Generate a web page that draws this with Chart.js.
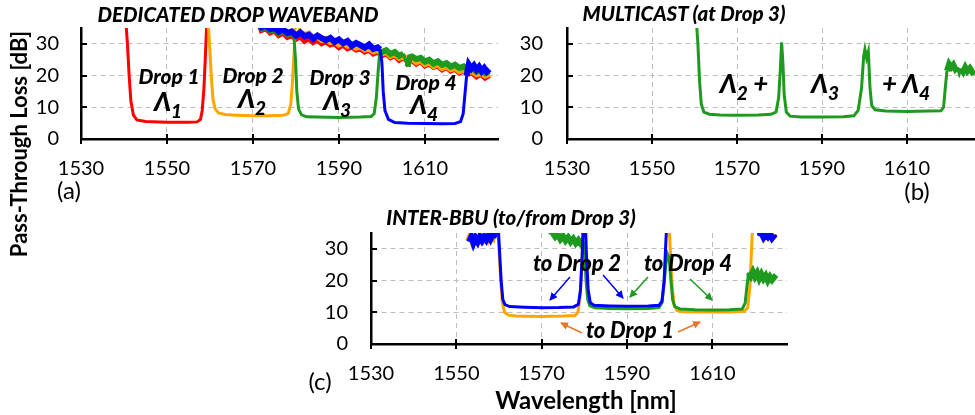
<!DOCTYPE html>
<html>
<head>
<meta charset="utf-8">
<script src="https://cdn.jsdelivr.net/npm/chart.js@4.4.1/dist/chart.umd.min.js"></script>
<style>
  body { margin: 0; background: #fff; }
  #wrap { position: relative; width: 975px; height: 415px; overflow: hidden; font-family: Lato, "Open Sans", sans-serif; }
  canvas { position: absolute; left: 0; top: 0; }
  .t { position: absolute; transform: translate(-50%, -50%); white-space: nowrap; color: #000; line-height: 1; }
  .bi { font-weight: 900; font-style: italic; }
  .ttl { font-size: 20.5px; }
  .drop { font-size: 21px; }
  .ann { font-size: 22px; }
  .lam { font-size: 26px; }
  .lam sub { font-size: 19px; vertical-align: -7px; }
  .pan { font-size: 24px; }
  svg { position: absolute; left: 0; top: 0; }
</style>
</head>
<body>
<div id="wrap">
  <canvas id="ca" width="975" height="415"></canvas>
  <canvas id="cb" width="975" height="415"></canvas>
  <canvas id="cc" width="975" height="415"></canvas>

  <svg width="975" height="415">
    <defs>
      <marker id="hb" markerWidth="8" markerHeight="8" refX="7" refY="4" orient="auto" markerUnits="userSpaceOnUse"><path d="M0,0 L8,4 L0,8 z" fill="#0000ff"/></marker>
      <marker id="hg" markerWidth="8" markerHeight="8" refX="7" refY="4" orient="auto" markerUnits="userSpaceOnUse"><path d="M0,0 L8,4 L0,8 z" fill="#1e9a1e"/></marker>
      <marker id="ho" markerWidth="8" markerHeight="8" refX="7" refY="4" orient="auto" markerUnits="userSpaceOnUse"><path d="M0,0 L8,4 L0,8 z" fill="#e8762c"/></marker>
    </defs>
    <line x1="570" y1="277" x2="550" y2="300" stroke="#0000ff" stroke-width="1.5" marker-end="url(#hb)"/>
    <line x1="603" y1="275" x2="623" y2="298" stroke="#0000ff" stroke-width="1.5" marker-end="url(#hb)"/>
    <line x1="648" y1="277" x2="630" y2="297" stroke="#1e9a1e" stroke-width="1.5" marker-end="url(#hg)"/>
    <line x1="690" y1="279" x2="712" y2="300" stroke="#1e9a1e" stroke-width="1.5" marker-end="url(#hg)"/>
    <line x1="582" y1="333" x2="561" y2="323" stroke="#e8762c" stroke-width="1.5" marker-end="url(#ho)"/>
    <line x1="678" y1="332" x2="700" y2="322" stroke="#e8762c" stroke-width="1.5" marker-end="url(#ho)"/>
  </svg>

  <div class="t bi ttl" style="left:238px;top:14px">DEDICATED DROP WAVEBAND</div>
  <div class="t bi ttl" style="left:684px;top:13px">MULTICAST (at Drop 3)</div>
  <div class="t bi ttl" style="left:511px;top:217px">INTER-BBU (to/from Drop 3)</div>

  <div class="t bi drop" style="left:169px;top:75px">Drop 1</div>
  <div class="t bi lam" style="left:168px;top:104px">Λ<sub>1</sub></div>
  <div class="t bi drop" style="left:253px;top:74px">Drop 2</div>
  <div class="t bi lam" style="left:252px;top:101px">Λ<sub>2</sub></div>
  <div class="t bi drop" style="left:340px;top:76px">Drop 3</div>
  <div class="t bi lam" style="left:337px;top:103px">Λ<sub>3</sub></div>
  <div class="t bi drop" style="left:426px;top:81px">Drop 4</div>
  <div class="t bi lam" style="left:424px;top:107px">Λ<sub>4</sub></div>

  <div class="t bi lam" style="left:744px;top:86px">Λ<sub>2</sub> +</div>
  <div class="t bi lam" style="left:825px;top:86px">Λ<sub>3</sub></div>
  <div class="t bi lam" style="left:906px;top:86px">+ Λ<sub>4</sub></div>

  <div class="t bi ann" style="left:577px;top:263px">to Drop 2</div>
  <div class="t bi ann" style="left:688px;top:263px">to Drop 4</div>
  <div class="t bi ann" style="left:630px;top:330px">to Drop 1</div>

  <div class="t pan" style="left:69px;top:190px">(a)</div>
  <div class="t pan" style="left:917px;top:191px">(b)</div>
  <div class="t pan" style="left:320px;top:381px">(c)</div>

  <div class="t" style="left:19px;top:144px;transform:translate(-50%,-50%) rotate(-90deg);font-weight:bold;font-size:22px">Pass-Through Loss [dB]</div>
  <div class="t" style="left:586px;top:400px;font-weight:bold;font-size:24px">Wavelength [nm]</div>
</div>

<script>
// axis ticks shared by all three panels
var xTicks = [1530, 1550, 1570, 1590, 1610];
var yTicks = [0, 10, 20, 30];

// (a) dedicated drop waveband: [wavelength nm, loss dB]
var aRed = [[1538,40],[1540.3,40],[1540.8,30],[1541.2,20],[1541.6,12],[1542.2,7.5],[1543,6],[1545,5.5],[1550,5.3],[1555,5.3],[1557,5.4],
  [1557.8,6.2],[1558.2,9],[1558.6,16],[1558.9,25],[1559.2,35],[1559.5,40],[1566,40],[1571,38],
  [1572,34.4],[1573,35.0],[1574,33.6],[1575,34.2],[1576,32.8],[1577,33.6],[1578,32.2],[1579,32.8],[1580,31.6],[1581,32.4],
  [1582,31.0],[1583,31.8],[1584,30.6],[1585,31.4],[1586,30.2],[1587,30.8],[1588,29.8],[1589,30.2],[1590,29.0],[1591,29.8],
  [1592,28.6],[1593,29.2],[1594,28.2],[1595,28.6],[1596,27.6],[1597,28.2],[1598,27.0],[1599,27.6],[1600,26.4],[1601,27.0],
  [1602,25.8],[1603,26.4],[1604,25.0],[1605,25.8],[1606,24.6],[1607,25.0],[1608,23.8],[1609,24.6],[1610,23.2],[1611,23.8],
  [1612,22.8],[1613,23.2],[1614,22.0],[1615,22.8],[1616,21.6],[1617,22.2],[1618,21.0],[1619,21.6],[1620,20.6],[1621,21.0],
  [1622,19.8],[1623,20.6],[1624,19.4],[1625,20.2]];
var aOrange = [[1559.4,40],[1559.9,30],[1560.3,20],[1560.7,12.5],[1561.2,9.5],[1562,8.2],[1563.5,7.7],[1566,7.5],[1570,7.3],[1574,7.3],
  [1577,7.5],[1578.2,8],[1578.8,11],[1579.2,18],[1579.6,28],[1579.9,38],[1580.3,40],[1581,33.4],[1582,32.8],[1583,33.2],
  [1584,32.0],[1585,32.2],[1586,31.2],[1587,31.6],[1588,30.6],[1589,31.0],[1590,29.8],[1591,30.4],[1592,29.4],[1593,29.8],
  [1594,28.8],[1595,29.2],[1596,28.2],[1597,28.6],[1598,27.6],[1599,28.0],[1600,27.0],[1601,27.4],[1602,26.2],[1603,26.8],
  [1604,25.6],[1605,26.0],[1606,25.0],[1607,25.4],[1608,24.2],[1609,24.8],[1610,23.6],[1611,24.2],[1612,23.0],[1613,23.6],
  [1614,22.4],[1615,23.0],[1616,22.0],[1617,22.4],[1618,21.4],[1619,21.8],[1620,21.0],[1621,21.4],[1622,20.4],[1623,20.8],
  [1624,20.0],[1625,20.6]];
var aGreen = [[1571,37],[1572,34.8],[1573,35.4],[1574,34.2],[1575,34.6],[1576,33.4],[1577,34.2],[1578,33.0],[1579,33.5],[1579.5,32.8],
  [1579.9,25],[1580.2,15],[1580.6,9.5],[1581.3,7.6],[1582.5,7.0],[1585,6.9],[1590,6.8],[1595,6.9],[1597.5,7.1],[1598.2,8],
  [1598.7,13],[1599.1,21],[1599.5,27.6],[1600,27.4],[1601,28.0],[1602,26.8],[1603,27.4],[1604,26.2],[1605,26.9],[1606,22.8],
  [1606.5,25.8],[1607,26.0],[1608,25.2],[1609,25.6],[1610,24.4],[1611,25.0],[1612,23.8],[1613,24.5],[1614,23.4],[1615,23.9],
  [1616,22.8],[1617,23.4],[1618,22.4],[1619,22.9],[1620,21.8],[1621,22.4],[1622,21.2],[1623,21.9],[1624,20.8],[1625,21.4]];
var aBlue = [[1565,40],[1571,37],[1572,35.2],[1573,35.8],[1574,34.6],[1575,35.0],[1576,33.8],[1577,34.6],[1578,33.4],[1579,33.9],
  [1580,32.6],[1581,33.6],[1582,32.4],[1583,32.9],[1584,31.6],[1585,32.6],[1586,31.8],[1587,31.2],[1588,31.9],[1589,30.6],
  [1590,31.4],[1591,30.2],[1592,30.9],[1593,29.4],[1594,30.3],[1595,29.6],[1596,28.8],[1597,29.8],[1598,28.4],[1599,28.9],
  [1599.6,28.2],[1600,24],[1600.3,15],[1600.7,9],[1601.5,6.2],[1603,5.2],[1606,5.0],[1610,4.9],[1614,4.8],[1617,4.9],
  [1618.3,5.5],[1618.9,8],[1619.3,14],[1619.7,20],[1620.2,23.5],[1620.8,22.2],[1621.4,23.2],[1622,21.8],[1622.6,22.8],
  [1623.2,21.4],[1623.8,22.4],[1624.4,21.2],[1625,22.0]];

// (b) multicast at drop 3
var bGreen = [[1560.3,40],[1560.8,30],[1561.2,18],[1561.6,11],[1562.2,8.5],[1563.5,7.8],[1566,7.6],[1570,7.5],[1575,7.6],[1578,7.8],
  [1579.2,8.5],[1579.8,13],[1580.2,22],[1580.5,30.5],[1580.8,24],[1581.1,14],[1581.6,8.5],[1582.5,7.2],[1585,6.9],[1590,6.9],
  [1595,7.0],[1597.5,7.3],[1598.5,9],[1599.3,16],[1599.8,26],[1600.1,28.3],[1600.5,25.5],[1600.9,27.5],[1601.3,16],[1601.7,10.5],
  [1602.5,9.2],[1605,8.8],[1610,8.7],[1615,8.8],[1618,8.9],[1618.6,10],[1619,16],[1619.4,21.5],[1619.9,23.6],[1620.4,22.6],
  [1620.9,23.4],[1621.4,22.0],[1621.9,22.6],[1622.3,20.6],[1622.7,22.2],[1623.2,21.2],[1623.7,22.6],[1624.2,21.4],[1624.8,22.3],
  [1625.4,21.0],[1626,21.4]];

// (c) inter-BBU to/from drop 3
var cOrange = [[1552.8,32.5],[1553.3,34.2],[1553.8,32.2],[1554.4,33.8],[1555,32.4],[1555.6,34.0],[1556.2,32.8],[1556.8,34.4],
  [1557.4,33.0],[1558,34.6],[1558.6,33.6],[1559.1,36],[1559.5,40],[1560,30],[1560.4,20],[1560.8,13],[1561.3,10],[1562.2,9.1],
  [1564,8.8],[1570,8.7],[1575,8.8],[1577.8,9.0],[1578.5,10],[1579,15],[1579.4,25],[1579.8,40],[1599.8,40],[1600.2,28],
  [1600.6,18],[1601,12.5],[1601.7,10.6],[1603,10.2],[1608,10.1],[1614,10.1],[1617.5,10.3],[1618.3,11.5],[1618.8,18],
  [1619.2,30],[1619.5,40],[1620.8,37],[1621.2,34.2],[1621.7,35.0],[1622.2,33.8],[1622.7,34.8],[1623.2,34.0],[1623.7,34.8],
  [1624.2,33.6],[1624.8,34.4]];
var cGreen = [[1571.5,40],[1572,34.6],[1572.6,35.0],[1573.2,33.8],[1573.8,34.6],[1574.4,33.0],[1575,34.0],[1575.6,32.6],
  [1576.2,33.6],[1576.8,32.2],[1577.4,33.2],[1578,31.8],[1578.6,32.8],[1579.2,31.6],[1579.7,32.4],[1580.1,28],[1580.4,20],
  [1580.8,14],[1581.3,12],[1582.5,11.4],[1586,11.2],[1590,11.1],[1595,11.2],[1597.5,11.5],[1598.2,13],[1598.7,19],[1599.1,25],
  [1599.5,28.3],[1599.9,27],[1600.3,20],[1600.7,14],[1601.2,11.8],[1602.5,11.0],[1606,10.8],[1610,10.7],[1614,10.8],[1617,11.0],
  [1617.7,13],[1618.1,18],[1618.5,22.5],[1619,21.4],[1619.5,22.8],[1620,21.2],[1620.5,22.4],[1621,20.6],[1621.5,22.0],
  [1622,20.6],[1622.5,21.6],[1623,20.0],[1623.5,21.2],[1624,20.2],[1624.5,21.0],[1625,20.4]];
var cBlue = [[1553,32.2],[1553.5,33.8],[1554,31.8],[1554.5,33.4],[1555,32.2],[1555.5,33.8],[1556,32.6],[1556.5,33.8],[1557,32.8],
  [1557.5,34.2],[1558,33.0],[1558.5,34.4],[1559,33.4],[1559.4,36],[1559.7,40],[1560.1,30],[1560.5,20],[1560.9,14],[1561.4,12.4],
  [1562.5,11.8],[1566,11.6],[1570,11.4],[1574,11.5],[1577.5,11.7],[1578.6,12.5],[1579.1,17],[1579.5,28],[1579.8,40],[1580.2,40],
  [1580.5,28],[1580.9,17],[1581.4,13],[1582.3,12.2],[1586,12.0],[1590,11.9],[1595,12.0],[1597.5,12.2],[1598.2,13.5],[1598.7,20],
  [1599.1,32],[1599.4,40],[1620.5,40],[1621,34.0],[1621.5,35.0],[1622,33.6],[1622.5,34.6],[1623,33.8],[1623.5,34.8],[1624,33.4],
  [1624.6,34.4],[1625,33.8]];

var RED = '#ff0000', ORANGE = '#ffa500', GREEN = '#1e9a1e', BLUE = '#0000ff';
var tickFont = { family: 'Lato', size: 20 };

// noisy (high-loss) stretches are drawn as a thicker trace, like the measured band;
// steep filter edges stay thin
function segWidth(ctx) {
  var a = ctx.p0.parsed, b = ctx.p1.parsed;
  var noisy = a.y > 15 && b.y > 15 && b.x - a.x >= 0.45 && Math.abs(b.y - a.y) < 4;
  return noisy ? 6 : 3;
}

function ds(pts, color) {
  return {
    data: pts.map(function (p) { return { x: p[0], y: p[1] }; }),
    borderColor: color,
    borderWidth: 3,
    segment: { borderWidth: segWidth },
    pointRadius: 0,
    fill: false,
    tension: 0,
    clip: 0
  };
}

// short black tick marks: crossing the x axis, inside the y axis
var tickMarks = {
  id: 'tickMarks',
  afterDraw: function (chart) {
    var c = chart.ctx, a = chart.chartArea, sx = chart.scales.x, sy = chart.scales.y;
    c.save();
    c.strokeStyle = '#000';
    c.lineWidth = 2;
    c.beginPath();
    sx.ticks.forEach(function (t) {
      var px = Math.round(sx.getPixelForValue(t.value));
      c.moveTo(px, a.bottom - 5); c.lineTo(px, a.bottom + 5);
    });
    sy.ticks.forEach(function (t) {
      var py = Math.round(sy.getPixelForValue(t.value));
      c.moveTo(a.left, py); c.lineTo(a.left + 6, py);
    });
    c.stroke();
    c.restore();
  }
};

function panel(id, area, xMax, sets, yPad) {
  return new Chart(document.getElementById(id), {
    type: 'line',
    data: { datasets: sets },
    plugins: [tickMarks],
    options: {
      responsive: false,
      animation: false,
      events: [],
      layout: { padding: { left: area.l - 70, top: area.t, right: 975 - area.r, bottom: 415 - area.b - 50 } },
      plugins: { legend: { display: false }, tooltip: { enabled: false } },
      scales: {
        x: {
          type: 'linear', min: 1530, max: xMax,
          afterBuildTicks: function (s) { s.ticks = xTicks.map(function (v) { return { value: v }; }); },
          afterFit: function (s) { s.height = 50; s.paddingLeft = 0; s.paddingRight = 0; },
          ticks: { font: tickFont, color: '#000', padding: 18, maxRotation: 0, autoSkip: false,
                   callback: function (v) { return String(v); } },
          grid: { color: '#bdbdbd', lineWidth: 1, drawTicks: false },
          border: { color: '#000', width: 2.5, dash: [5, 4] }
        },
        y: {
          min: 0, max: 35,
          afterBuildTicks: function (s) { s.ticks = yTicks.map(function (v) { return { value: v }; }); },
          afterFit: function (s) { s.width = 70; s.paddingTop = 0; s.paddingBottom = 0; },
          ticks: { font: tickFont, color: '#000', padding: yPad,
                   callback: function (v) { return String(v); } },
          grid: { color: '#bdbdbd', lineWidth: 1, drawTicks: false },
          border: { color: '#000', width: 2.5, dash: [5, 4] }
        }
      }
    }
  });
}

// first dataset is painted on top by Chart.js
panel('ca', { l: 81, t: 28, r: 498, b: 139 }, 1627,
  [ds(aBlue, BLUE), ds(aGreen, GREEN), ds(aOrange, ORANGE), ds(aRed, RED)], 22);
panel('cb', { l: 567, t: 28, r: 975, b: 139 }, 1626, [ds(bGreen, GREEN)], 24);
panel('cc', { l: 371, t: 233, r: 787, b: 344 }, 1627.5,
  [ds(cBlue, BLUE), ds(cGreen, GREEN), ds(cOrange, ORANGE)], 23);
</script>
</body>
</html>
